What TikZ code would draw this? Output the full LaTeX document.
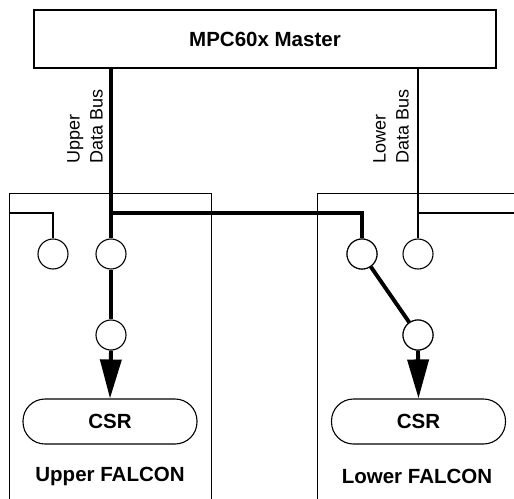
\documentclass[tikz,border=0pt]{standalone}
\usepackage{fontspec}
\setmainfont{Liberation Sans}
\usetikzlibrary{arrows.meta}
\begin{document}
\begin{tikzpicture}[x=1pt,y=-1pt,
  thin line/.style={line width=1.1pt},
  box/.style={draw,line width=1.4pt},
  port/.style={circle,draw,line width=1.1pt,minimum size=30pt,inner sep=0pt},
  csr/.style={draw,line width=1.1pt,rounded corners=22pt,minimum width=174pt,minimum height=45pt,font=\bfseries\fontsize{20.5}{24}\selectfont},
  bus/.style={line width=3.9pt},
  title/.style={font=\bfseries\fontsize{20.5}{24}\selectfont},
  lbl/.style={rotate=90,align=left,inner sep=0pt,anchor=south west,font=\fontsize{18}{23}\selectfont},
  arr/.style={bus,-{Triangle[length=39pt,width=21pt]}}]
\useasboundingbox (0,0) rectangle (514,498);
\clip (0,0) rectangle (514,498);
% FALCON boxes (open at page edge)
\node[box,minimum width=202pt,minimum height=340pt,inner sep=0pt,anchor=north west] (upper) at (9,193) {};
\node[box,minimum width=230pt,minimum height=340pt,inner sep=0pt,anchor=north west] (lower) at (317,193) {};
% master
\node[box,fill=white,minimum width=462pt,minimum height=58pt,inner sep=0pt,title] (master) at (265,39) {MPC60x Master};
% ports
\node[port] (cL1) at (53,254) {};
\node[port] (cL2) at (111,254) {};
\node[port] (cL3) at (111,335) {};
\node[port] (cR1) at (362,254) {};
\node[port] (cR2) at (418,254) {};
\node[port] (cR3) at (418,335) {};
% CSR
\node[csr] (csrL) at (110,421.5) {CSR};
\node[csr] (csrR) at (418.5,421.5) {CSR};
% labels
\node[title] (tU) at (110,476) {Upper FALCON};
\node[title] (tL) at (417,476) {Lower FALCON};
% coordinates
\coordinate (uTop) at (cL2 |- master.south);
\coordinate (uJ) at (111,213);
\coordinate (rJ) at (cR1 |- uJ);
\coordinate (lTop) at (cR2 |- master.south);
\coordinate (lJ) at (418,213);
\coordinate (lEnd) at (514,213);
\coordinate (lLeft) at (upper.west |- uJ);
\coordinate (lCorner) at (cL1 |- uJ);
% thin buses
\draw[thin line] (lTop) -- (cR2.north);
\draw[thin line] (lJ) -- (lEnd);
\draw[thin line] (lLeft) -- (lCorner) -- (cL1.north);
% thick buses
\draw[bus,line join=miter] (uTop) -- (cL2.north);
\draw[bus,line join=miter] (uJ) -- (rJ) -- (cR1.north);
\draw[bus] (cL2.south) -- (cL3.north);
\draw[bus] (cR1) -- (cR3);
\node[port,fill=white] at (cR1) {};
\node[port,fill=white] at (cR3) {};
\draw[arr] (cL3.south) -- (csrL.north);
\draw[arr] (cR3.south) -- (csrR.north);
% rotated labels
\node[lbl] (uLbl) at (103,164) {Upper\\Data Bus};
\node[lbl] (lLbl) at (409,164) {Lower\\Data Bus};
\end{tikzpicture}
\end{document}
